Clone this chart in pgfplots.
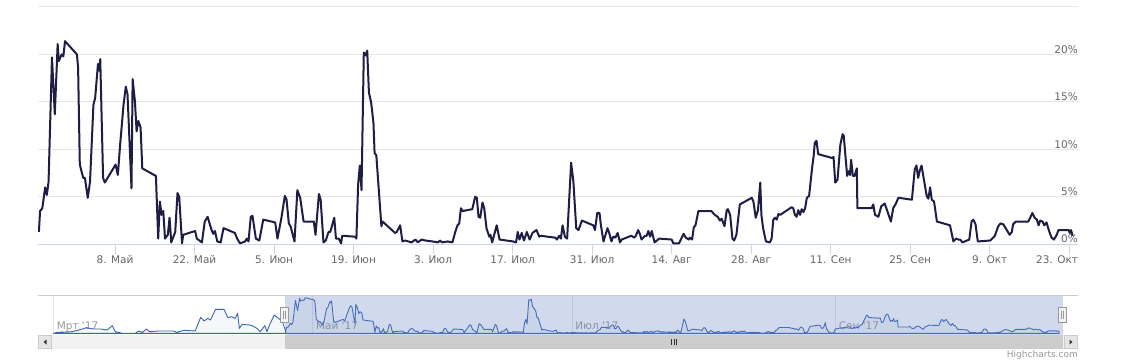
\documentclass[border=0pt]{standalone}
\usepackage{pgfplots}
\pgfplotsset{compat=1.18}
\usepackage{pgfplotstable}
\usepackage{fontspec}
\setmainfont{DejaVu Sans}
\definecolor{lineC}{RGB}{30,29,70}
\definecolor{navC}{RGB}{60,100,180}
\definecolor{maskC}{RGB}{102,133,194}
\definecolor{axisC}{RGB}{204,214,235}
\definecolor{gridC}{RGB}{230,230,230}
\definecolor{labelC}{RGB}{102,102,102}
\definecolor{navLabelC}{RGB}{153,153,153}
\definecolor{outlineC}{RGB}{204,204,204}

% main series: day (0 = 8 May 2017), value in %
\pgfplotstableread{
x y
-13.4 1.3
-13.2 3.5
-12.8 3.8
-12.3 6.0
-12.0 5.2
-11.7 6.6
-11.1 19.7
-10.6 13.7
-10.1 21.1
-9.9 19.3
-9.4 20.0
-9.1 19.8
-8.8 21.4
-6.7 20.0
-6.5 18.6
-6.2 8.4
-5.6 7.0
-5.3 7.0
-4.8 4.9
-4.4 6.6
-3.8 14.7
-3.5 15.4
-3.0 19.0
-2.8 18.3
-2.6 19.5
-2.1 7.0
-1.8 6.5
0.1 8.4
0.5 7.3
0.9 10.5
1.5 14.7
1.9 16.6
2.2 15.8
2.9 5.9
3.1 17.4
3.5 15.1
3.8 11.9
4.1 13.0
4.5 12.3
4.8 8.0
7.2 7.2
7.6 0.6
7.9 4.5
8.2 3.1
8.5 3.5
8.8 0.6
9.3 1.0
9.6 2.8
9.9 0.2
10.6 1.3
11.0 5.4
11.3 5.0
11.8 0.1
12.0 1.0
14.1 1.4
14.4 0.6
15.3 0.2
15.8 2.4
16.3 2.9
17.0 1.5
17.3 1.1
17.6 1.4
18.0 0.3
18.6 0.2
19.1 1.7
21.1 1.2
21.5 0.6
22.0 0.1
22.9 0.3
23.2 0.6
23.5 0.3
23.9 2.9
24.2 3.0
24.8 0.6
25.4 0.4
26.1 2.6
28.2 2.3
28.6 0.6
29.3 2.8
29.9 5.1
30.2 4.7
30.6 2.2
30.9 1.9
31.6 0.3
32.1 5.7
32.6 4.9
33.2 2.4
35.0 2.4
35.3 1.0
35.9 5.3
36.2 4.7
36.7 0.2
37.1 0.4
37.6 1.3
37.9 1.3
38.6 2.8
38.9 0.6
39.4 0.6
39.8 0.1
40.0 0.9
42.3 0.8
42.5 0.6
42.8 6.3
43.1 8.3
43.4 5.7
43.8 20.2
44.1 19.9
44.4 20.4
44.7 16.0
45.1 14.9
45.5 12.8
45.7 9.6
46.0 9.4
46.9 1.9
47.1 2.4
49.3 1.2
49.6 1.3
50.2 2.0
50.6 0.3
51.1 0.4
52.2 0.2
52.9 0.5
53.3 0.2
54.0 0.5
54.6 0.4
55.9 0.3
56.9 0.2
57.2 0.4
57.6 0.2
58.6 0.3
59.4 0.2
59.9 1.3
60.3 2.0
60.6 2.2
60.9 3.8
61.2 3.5
62.9 3.7
63.4 5.0
63.7 4.9
64.0 2.9
64.3 2.8
64.7 4.4
65.0 3.8
65.4 1.7
65.9 0.8
66.1 1.0
66.4 0.2
67.2 2.0
67.7 0.5
70.1 0.3
70.6 0.2
70.9 1.3
71.2 0.5
71.6 1.2
72.0 0.4
72.5 1.3
73.0 0.5
73.5 1.2
74.2 1.5
74.7 0.8
74.9 0.9
77.5 0.7
77.8 0.5
78.2 0.9
78.5 0.6
78.8 2.0
79.2 0.8
79.6 0.6
80.3 8.6
80.7 6.6
81.2 1.7
81.6 1.5
82.2 2.5
84.2 2.0
84.5 1.5
84.9 3.3
85.3 3.3
85.5 2.2
86.0 0.3
86.7 1.7
87.0 1.2
87.4 0.3
87.7 0.8
88.1 0.7
88.5 1.2
88.9 0.2
89.2 0.5
90.9 0.9
91.4 0.7
91.7 0.9
92.1 1.5
92.4 1.1
92.7 0.5
93.3 0.9
93.6 0.9
93.9 1.4
94.2 0.8
94.5 1.4
95.0 0.2
95.8 0.6
98.0 0.5
98.3 0.1
99.3 0.1
100.1 1.1
100.5 0.7
101.0 0.5
101.2 0.7
101.6 0.5
101.9 1.8
102.2 2.0
102.7 3.5
103.0 3.5
105.0 3.5
105.6 3.1
106.1 2.9
106.5 2.5
106.8 2.7
107.3 1.9
107.7 3.6
107.9 3.7
108.3 3.1
108.7 0.6
109.0 0.4
109.4 1.0
110.0 4.2
110.9 4.5
112.1 4.9
112.4 4.5
112.8 2.8
113.2 3.6
113.6 6.5
113.8 3.1
114.1 1.7
114.6 0.3
115.3 0.2
115.6 0.6
115.9 2.6
116.2 2.8
116.5 2.6
116.8 3.2
117.1 3.1
119.1 3.9
119.4 3.8
119.7 3.1
120.0 2.9
120.3 3.6
120.6 3.1
120.9 3.7
121.2 3.4
121.5 3.8
121.8 4.9
122.2 5.1
122.7 7.9
123.0 9.3
123.2 10.7
123.5 10.9
123.8 9.5
126.2 9.1
126.5 9.2
126.8 6.5
127.2 6.8
127.7 10.5
128.1 11.6
128.3 11.4
128.7 8.6
128.9 7.2
129.1 7.7
129.4 7.3
129.6 8.9
129.9 7.2
130.2 7.2
130.6 8.0
130.7 3.8
133.2 3.8
133.5 4.2
133.8 3.1
134.4 2.9
134.9 4.0
135.5 4.3
135.8 3.8
136.2 3.1
136.6 2.4
137.0 3.8
137.5 4.3
137.9 4.9
140.3 4.7
140.8 7.9
141.1 8.3
141.4 7.0
141.7 7.8
142.0 8.3
142.3 7.2
142.9 5.1
143.2 4.8
143.5 6.0
143.8 4.7
144.2 4.5
144.7 2.4
147.0 2.0
147.6 0.3
148.1 0.6
148.5 0.5
148.8 0.5
149.2 0.2
150.0 0.4
150.4 0.5
150.8 2.4
151.1 2.6
151.5 2.1
151.9 0.3
154.1 0.4
154.6 0.7
154.9 0.9
155.5 1.9
155.9 2.2
156.4 2.1
157.0 1.5
157.5 1.0
157.9 1.3
158.1 2.1
158.6 2.4
158.9 2.4
160.8 2.4
161.2 2.9
161.5 3.3
161.9 2.8
162.3 2.6
162.6 2.0
162.9 2.5
163.3 2.4
163.6 2.0
164.0 2.3
164.5 1.3
164.9 0.7
165.3 0.5
165.8 1.0
166.1 1.5
167.9 1.5
168.1 1.2
168.3 1.5
168.6 0.9
}\maindata

% navigator: earlier part of the series (March - April)
\pgfplotstableread{
x y
-68.0 0.0
-67.1 0.6
-63.7 1.0
-62.0 2.0
-60.3 3.4
-58.6 2.6
-56.9 2.6
-55.4 2.0
-54.2 4.6
-53.5 1.0
-51.8 0.0
-48.8 0.0
-48.0 1.4
-47.1 0.6
-46.2 2.6
-45.4 1.0
-43.3 1.4
-39.8 1.4
-39.0 0.6
-37.3 1.8
-34.7 1.4
-33.4 9.6
-32.6 7.4
-31.7 9.0
-31.1 8.0
-29.9 14.4
-27.9 14.4
-27.0 9.4
-26.2 10.0
-25.3 9.0
-24.7 12.0
-24.3 3.0
-23.6 5.4
-21.9 5.0
-21.1 4.4
-20.2 3.0
-19.4 1.0
-18.3 4.6
-17.8 1.0
-17.2 5.0
-16.1 11.0
-15.1 9.0
-14.2 7.4
-13.4 1.3
}\navdata

\begin{document}
\begin{tikzpicture}[x=1bp,y=1bp]
\fill[white] (0,0) rectangle (1128,361);

% ---------------- main chart ----------------
\begin{axis}[
  at={(38bp,116.7bp)}, anchor=south west,
  width=1040bp, height=237.3bp, scale only axis,
  xmin=-13.56, xmax=169.54, ymin=0, ymax=25,
  axis x line*=bottom, axis y line*=right,
  x axis line style={draw=axisC, line width=1bp},
  y axis line style={draw=none},
  xtick={0,14,...,154},
  xticklabels={8. Май,22. Май,5. Июн,19. Июн,3. Июл,17. Июл,31. Июл,14. Авг,28. Авг,11. Сен,25. Сен,9. Окт},
  extra x ticks={168},
  extra x tick labels={23. Окт},
  extra x tick style={xtick style={draw=axisC, line width=1bp}, xticklabel style={anchor=north east, xshift=9bp}},
  tick align=outside,
  major tick length=10bp,
  xtick style={draw=axisC, line width=1bp},
  ytick={0,5,10,15,20,25},
  yticklabels={0\%,5\%,10\%,15\%,20\%,{}},
  ytick style={draw=none},
  ymajorgrids,
  grid style={draw=gridC, line width=1bp},
  tick label style={font=\fontsize{10.5bp}{13bp}\selectfont, text=labelC},
  yticklabel style={anchor=south east, inner sep=0pt, xshift=-10bp, yshift=1bp},
  xticklabel style={inner sep=0pt, yshift=-1bp},
  /pgf/number format/assume math mode=true,
]
\addplot[lineC, line width=2bp, line join=round, no markers] table[x=x,y=y] {\maindata};
\end{axis}

% ---------------- navigator ----------------
\begin{axis}[
  at={(52bp,26bp)}, anchor=south west,
  width=1012bp, height=40bp, scale only axis,
  xmin=-68.38, xmax=169.74, ymin=-1, ymax=23,
  axis line style={draw=none},
  xtick={-68,-7,54,116},
  xticklabels={Мрт \textquotesingle17,Май \textquotesingle17,Июл \textquotesingle17,Сен \textquotesingle17},
  xmajorgrids,
  grid style={draw=gridC, line width=1bp},
  major tick length=0pt,
  ytick=\empty,
  xticklabel style={anchor=base west, inner sep=0pt, xshift=3bp, yshift=6bp, font=\fontsize{10.5bp}{13bp}\selectfont, text=navLabelC},
  /pgf/number format/assume math mode=true,
]
\addplot[navC, line width=0.9bp, fill=navC, fill opacity=0.05, line join=round, no markers] table[x=x,y=y] {\navdata} \closedcycle;
\addplot[navC, line width=0.9bp, fill=navC, fill opacity=0.05, line join=round, no markers] table[x=x,y=y] {\maindata} \closedcycle;
\fill[maskC, fill opacity=0.3] (axis cs:-13.56,-1) rectangle (axis cs:169.54,23);
\end{axis}

% navigator outline
\draw[outlineC, line width=1bp] (38,66) -- (1078,66);

% scrollbar
\fill[black!5] (52,12) rectangle (1064,26);
\fill[black!20] (285,12) rectangle (1063,26);
\foreach \dx in {-2.5,0,2.5} {
  \draw[black!80, line width=0.8bp] (674+\dx,16) -- (674+\dx,22);
}
\filldraw[fill=black!10, draw=outlineC, line width=1bp] (38.5,12.5) rectangle (51.5,25.5);
\filldraw[fill=black!10, draw=outlineC, line width=1bp] (1064.5,12.5) rectangle (1077.5,25.5);
\fill[black!80] (43.5,19) -- (46.5,21.5) -- (46.5,16.5) -- cycle;
\fill[black!80] (1072.5,19) -- (1069.5,21.5) -- (1069.5,16.5) -- cycle;

% handles
\foreach \hx in {285,1063} {
  \filldraw[fill=black!5, draw=black!40, line width=1bp] (\hx-4.5,38.5) rectangle (\hx+3.5,53.5);
  \draw[black!40, line width=1bp] (\hx-1.5,42) -- (\hx-1.5,50) (\hx+0.5,42) -- (\hx+0.5,50);
}

% credits
\node[anchor=base east, inner sep=0pt, font=\fontsize{9bp}{11bp}\selectfont, text=navLabelC] at (1078,4) {Highcharts.com};

\pgfresetboundingbox
\path (0,0) rectangle (1128,361);
\end{tikzpicture}
\end{document}
